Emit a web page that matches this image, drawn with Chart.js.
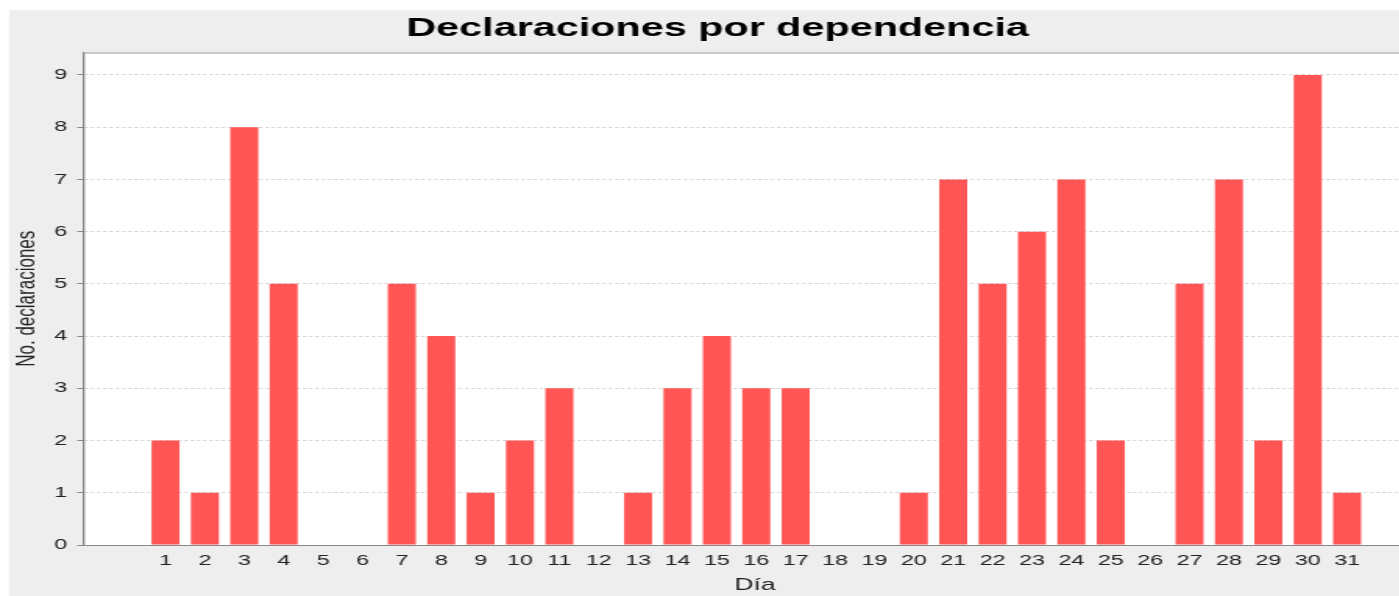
<!DOCTYPE html>
<html>
<head>
<meta charset="utf-8">
<script src="https://cdn.jsdelivr.net/npm/chart.js@4.4.1/dist/chart.umd.min.js"></script>
<style>
  html, body { margin: 0; padding: 0; background: #fff; overflow: hidden; }
  #clip { position: relative; width: 1399px; height: 596px; overflow: hidden; }
  /* the reference picture is stretched sideways, so the chart is too */
  #wrap { width: 940px; height: 596px; transform: scaleX(1.56); transform-origin: 0 0; }
</style>
</head>
<body>
<div id="clip"><div id="wrap"><canvas id="chart" width="940" height="596"></canvas></div></div>
<script>
const days = [1, 2, 3, 4, 5, 6, 7, 8, 9, 10, 11, 12, 13, 14, 15, 16,
              17, 18, 19, 20, 21, 22, 23, 24, 25, 26, 27, 28, 29, 30, 31];
const declaraciones = [2, 1, 8, 5, 0, 0, 5, 4, 1, 2, 3, 0, 1, 3, 4, 3,
                       3, 0, 0, 1, 7, 5, 6, 7, 2, 0, 5, 7, 2, 9, 1];
const yTicks = [0, 1, 2, 3, 4, 5, 6, 7, 8, 9];

const fontFamily = "'Liberation Sans', Arial, sans-serif";

// fondo gris del grafico y borde del area de trazado
const background = {
    id: 'background',
    beforeDraw(chart) {
        const ctx = chart.ctx;
        const a = chart.chartArea;
        ctx.save();
        ctx.fillStyle = '#ffffff';
        ctx.fillRect(0, 0, chart.width, chart.height);
        ctx.fillStyle = '#eeeeee';
        ctx.fillRect(5.8, 10, chart.width, chart.height);
        ctx.fillStyle = '#ffffff';
        ctx.fillRect(a.left, a.top, a.right - a.left, a.bottom - a.top);
        ctx.restore();
    },
    afterDraw(chart) {
        const ctx = chart.ctx;
        const a = chart.chartArea;
        ctx.save();
        ctx.strokeStyle = '#999999';
        ctx.lineWidth = 1;
        ctx.beginPath();
        ctx.moveTo(a.left, a.top + 0.5);
        ctx.lineTo(a.right, a.top + 0.5);
        ctx.stroke();
        ctx.restore();
    }
};

new Chart(document.getElementById('chart'), {
    type: 'bar',
    data: {
        labels: days,
        datasets: [{
            data: declaraciones,
            backgroundColor: '#ff5555',
            borderWidth: 0,
            categoryPercentage: 1,
            barPercentage: 0.711,
        }]
    },
    options: {
        responsive: false,
        devicePixelRatio: 1,
        animation: false,
        layout: { padding: { top: 0, left: 5.5, right: 25.5, bottom: 0 } },
        scales: {
            x: {
                type: 'linear',
                offset: false,
                min: -1.083,
                max: 33.02,
                afterBuildTicks: (s) => { s.ticks = days.map(d => ({ value: d })); },
                afterFit: (s) => { s.height = 51; },
                grid: { display: false, drawTicks: false },
                border: { display: true, color: '#888888', width: 1 },
                ticks: {
                    padding: 6.5,
                    color: '#222222',
                    font: { family: fontFamily, size: 15 },
                    maxRotation: 0,
                    autoSkip: false,
                    callback: (v) => String(v)
                },
                title: {
                    display: true,
                    text: 'Día',
                    color: '#222222',
                    font: { family: fontFamily, size: 17 },
                    padding: { top: 0, bottom: 0 }
                }
            },
            y: {
                min: 0,
                max: 9.43,
                afterBuildTicks: (s) => { s.ticks = yTicks.map(v => ({ value: v })); },
                afterFit: (s) => { s.width = 48; },
                grid: {
                    color: '#d0d0d0',
                    lineWidth: 1,
                    drawTicks: true,
                    tickLength: 4,
                    tickColor: '#888888',
                    tickBorderDash: []
                },
                border: { display: true, color: '#888888', width: 1.3, dash: [2, 2] },
                ticks: {
                    padding: 6.4,
                    color: '#222222',
                    font: { family: fontFamily, size: 15 }
                },
                title: {
                    display: true,
                    text: 'No. declaraciones',
                    color: '#222222',
                    font: { family: fontFamily, size: 17 },
                    padding: { top: 1.5, bottom: 0 }
                }
            }
        },
        plugins: {
            legend: { display: false },
            tooltip: { enabled: false },
            title: {
                display: true,
                text: 'Declaraciones por dependencia',
                color: '#000000',
                font: { family: fontFamily, size: 26.5, weight: 'bold' },
                padding: { top: 13, bottom: 7.7 }
            }
        }
    },
    plugins: [background]
});
</script>
</body>
</html>
